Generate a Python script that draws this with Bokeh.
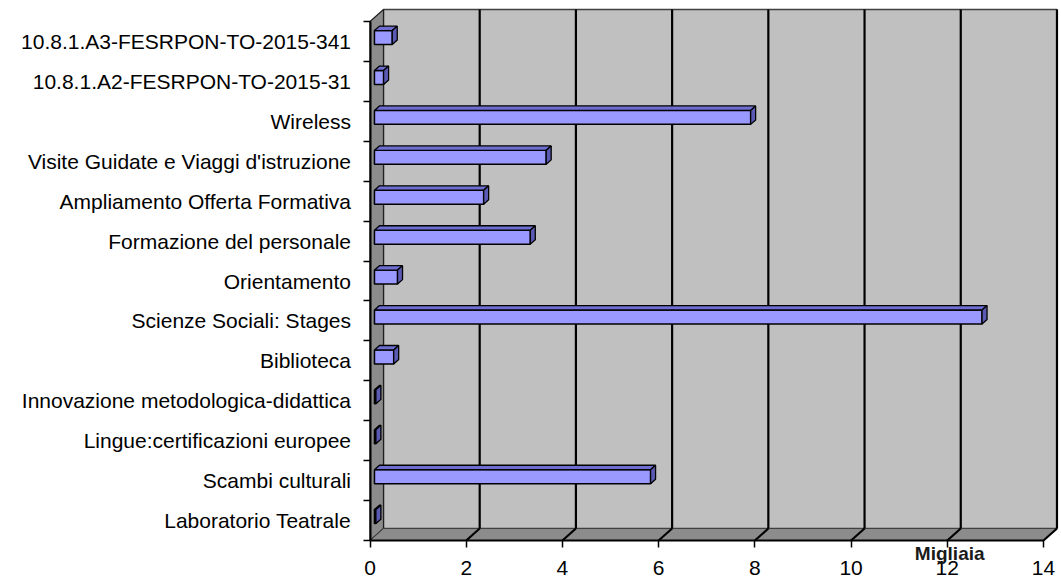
from bokeh.plotting import figure
from bokeh.models import Range1d, FixedTicker
from bokeh.core.properties import value
from bokeh.embed import file_html
from bokeh.resources import INLINE

# ---------------- data ----------------
categories = [
    "Laboratorio Teatrale",
    "Scambi culturali",
    "Lingue:certificazioni europee",
    "Innovazione metodologica-didattica",
    "Biblioteca",
    "Scienze Sociali: Stages",
    "Orientamento",
    "Formazione del personale",
    "Ampliamento Offerta Formativa",
    "Visite Guidate e Viaggi d'istruzione",
    "Wireless",
    "10.8.1.A2-FESRPON-TO-2015-31",
    "10.8.1.A3-FESRPON-TO-2015-341",
]
values = [0.03, 5.74, 0.03, 0.03, 0.40, 12.63, 0.48, 3.24, 2.27, 3.57, 7.82, 0.19, 0.37]
x_ticks = [0, 2, 4, 6, 8, 10, 12, 14]
unit_label = "Migliaia"

# ---------------- style / 3D geometry ----------------
FONT = "Liberation Sans"
WALL_DX = 0.28   # depth offset in x units
WALL_DY = 0.30   # depth offset in category units
D1, D2 = 0.33, 0.70  # bar front/back depth fractions
BAR_H = 0.35
# view window (frame covers the whole canvas; axes are pinned at 0)
X_LEFT, X_RIGHT = -7.681, 14.374
Y_BOTTOM, Y_TOP = -1.027, 13.527

n = len(categories)
xmax = x_ticks[-1]

p = figure(width=1061, height=581, output_backend="svg", toolbar_location=None,
           x_range=Range1d(X_LEFT, X_RIGHT), y_range=Range1d(Y_BOTTOM, Y_TOP),
           min_border_left=0, min_border_right=0, min_border_top=0, min_border_bottom=0)
p.outline_line_color = None
p.xgrid.visible = False
p.ygrid.visible = False
p.background_fill_color = "white"
p.border_fill_color = "white"

# back wall
p.quad(left=[WALL_DX], right=[xmax + WALL_DX], bottom=[WALL_DY], top=[n + WALL_DY],
       fill_color="#C0C0C0", line_color="#404040", line_width=1.5)
# left wall
p.patch([0, WALL_DX, WALL_DX, 0], [0, WALL_DY, n + WALL_DY, n],
        fill_color="#8C8C8C", line_color="#202020", line_width=1.2)
# floor
p.patch([0, xmax, xmax + WALL_DX, WALL_DX], [0, 0, WALL_DY, WALL_DY],
        fill_color="#8C8C8C", line_color="#404040", line_width=1)

# gridlines on back wall and floor
gx = x_ticks[1:]
p.segment(x0=[v + WALL_DX for v in gx], y0=[WALL_DY] * len(gx),
          x1=[v + WALL_DX for v in gx], y1=[n + WALL_DY] * len(gx),
          line_color="black", line_width=2.2)
p.segment(x0=gx, y0=[0] * len(gx), x1=[v + WALL_DX for v in gx], y1=[WALL_DY] * len(gx),
          line_color="black", line_width=2.2)

# bars (3D boxes)
fx0 = D1 * WALL_DX
ox = (D2 - D1) * WALL_DX
oy = (D2 - D1) * WALL_DY
front_l, front_r, front_b, front_t = [], [], [], []
top_xs, top_ys, side_xs, side_ys = [], [], [], []
for i, v in enumerate(values):
    yc = i + 0.5 + D1 * WALL_DY
    y0, y1 = yc - BAR_H / 2, yc + BAR_H / 2
    x1 = fx0 + v
    front_l.append(fx0); front_r.append(x1); front_b.append(y0); front_t.append(y1)
    top_xs.append([fx0, x1, x1 + ox, fx0 + ox])
    top_ys.append([y1, y1, y1 + oy, y1 + oy])
    side_xs.append([x1, x1 + ox, x1 + ox, x1])
    side_ys.append([y0, y0 + oy, y1 + oy, y1])

p.quad(left=front_l, right=front_r, bottom=front_b, top=front_t,
       fill_color="#9999FF", line_color="black", line_width=1.5)
p.patches(top_xs, top_ys, fill_color="#6E6ED0", line_color="black", line_width=1.3)
p.patches(side_xs, side_ys, fill_color="#5A5AB4", line_color="black", line_width=1.3)

# x axis, pinned at y = 0
xa = p.xaxis[0]
xa.fixed_location = 0
xa.ticker = FixedTicker(ticks=x_ticks, minor_ticks=[])
xa.bounds = (0, xmax)
xa.axis_line_color = "black"
xa.axis_line_width = 2
xa.major_tick_out = 7
xa.major_tick_in = 0
xa.major_tick_line_color = "black"
xa.major_tick_line_width = 1.5
xa.major_label_standoff = 13
xa.major_label_text_font = FONT
xa.major_label_text_font_size = "21px"
xa.major_label_text_color = "black"

# y axis, pinned at x = 0: labels at category centres, ticks at boundaries
ya = p.yaxis[0]
ya.fixed_location = 0
centers = [i + 0.5 for i in range(n)]
ya.ticker = FixedTicker(ticks=centers, minor_ticks=list(range(n + 1)))
ya.major_label_overrides = {c: lab for c, lab in zip(centers, categories)}
ya.bounds = (0, n)
ya.axis_line_color = "black"
ya.axis_line_width = 2
ya.major_tick_out = 0
ya.major_tick_in = 0
ya.minor_tick_out = 7
ya.minor_tick_in = 0
ya.minor_tick_line_color = "black"
ya.minor_tick_line_width = 1.5
ya.major_label_standoff = 12
ya.major_label_text_font = FONT
ya.major_label_text_font_size = "21px"
ya.major_label_text_color = "black"

# unit label ("Migliaia") near the 12 tick
p.text(x=[12.05], y=[-0.32], text=[unit_label], text_align="center",
       text_baseline="alphabetic", text_font=value(FONT), text_font_style="bold",
       text_font_size="19px", text_color="#1A1A1A", level="annotation")

open("out.html", "w").write(file_html(p, INLINE))
